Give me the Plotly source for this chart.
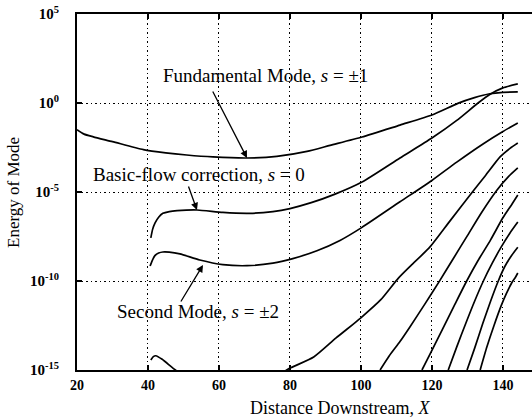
import numpy as np
import plotly.graph_objects as go

# Energy of each mode along the downstream distance (log10 of energy)
fund_x = [20, 22, 24.6, 30, 38.7, 45, 50.9, 58.3, 67.9, 76.3, 84.8, 91.3, 100.3, 111, 120, 127.3, 132, 136.3, 140, 144.2]
fund_log = [-1.5, -1.75, -1.9, -2.17, -2.62, -2.8, -2.92, -3.03, -3.09, -3.0, -2.72, -2.38, -1.91, -1.24, -0.67, -0.02, 0.3, 0.52, 0.6, 0.62]

base_x = [40.8, 41.3, 42, 43, 44.2, 46, 48.2, 53.8, 61.1, 68.7, 75.2, 80, 86, 92.7, 100.3, 111, 120, 127, 133, 136.3, 140, 144.2]
base_log = [-7.58, -7.1, -6.74, -6.42, -6.2, -6.1, -6.05, -6.01, -6.15, -6.2, -6.1, -5.93, -5.6, -5.12, -4.44, -3.09, -1.97, -0.98, 0.0, 0.48, 0.85, 1.07]

second_x = [40.6, 41.2, 42, 43, 44.2, 46, 49, 54.6, 61.1, 67.9, 75.2, 80.8, 87.6, 94.1, 100.2, 111, 120, 127, 134.4, 140, 144.2]
second_log = [-9.16, -8.85, -8.56, -8.43, -8.37, -8.38, -8.48, -8.82, -9.08, -9.14, -9.0, -8.74, -8.3, -7.72, -7.0, -5.55, -4.35, -3.32, -2.3, -1.6, -1.12]

third_x = [40.8, 41.5, 42.2, 44, 47.3, 50, 55, 62, 70, 76, 80.2, 86.7, 93, 99.9, 105.6, 110.5, 114, 119.4, 125, 131.8, 135, 139.2, 142, 144.2]
third_log = [-14.44, -14.25, -14.2, -14.4, -14.94, -15.3, -15.9, -16.2, -16.0, -15.35, -14.88, -14.27, -13.2, -12.08, -11.05, -9.85, -9.15, -8.1, -6.65, -4.9, -4.1, -3.03, -2.55, -2.25]

fourth_x = [105.4, 108, 111, 113.8, 118, 122, 126, 130, 134, 138.3, 141.5, 144.2]
fourth_log = [-15.0, -14.2, -13.4, -12.58, -11.3, -10.05, -8.75, -7.45, -6.15, -4.9, -4.15, -3.65]

fifth_x = [117.2, 120, 123, 126.5, 129.8, 133, 136.5, 140, 142.5, 144.2]
fifth_log = [-15.0, -13.9, -12.7, -11.3, -10.0, -8.85, -7.7, -6.45, -5.7, -5.17]

sixth_x = [124.6, 127, 129.5, 132, 134.5, 137, 139.5, 142, 144.2]
sixth_log = [-15.0, -13.7, -12.4, -11.15, -10.0, -9.0, -8.1, -7.3, -6.69]

seventh_x = [129.9, 132, 134.3, 136.5, 138.7, 140.5, 142.5, 144.2]
seventh_log = [-15.0, -13.8, -12.4, -11.15, -10.0, -9.2, -8.55, -8.1]

eighth_x = [133.6, 135.5, 137.5, 139.5, 141, 142.5, 143.5, 144.2]
eighth_log = [-15.0, -13.7, -12.5, -11.4, -10.7, -10.1, -9.8, -9.55]

x_ticks = [20, 40, 60, 80, 100, 120, 140]
y_tick_exp = [-15, -10, -5, 0, 5]
y_tick_text = ["10<sup>-15</sup>", "10<sup>-10</sup>", "10<sup>-5</sup>", "10<sup>0</sup>", "10<sup>5</sup>"]

SERIF = "Liberation Serif, Times New Roman, serif"

curves = [
    (fund_x, fund_log), (base_x, base_log), (second_x, second_log),
    (third_x, third_log), (fourth_x, fourth_log), (fifth_x, fifth_log),
    (sixth_x, sixth_log), (seventh_x, seventh_log), (eighth_x, eighth_log),
]

fig = go.Figure()
for xs, logs in curves:
    fig.add_trace(go.Scatter(
        x=xs, y=10.0 ** np.array(logs), mode="lines",
        line=dict(color="black", width=1.7, shape="spline", smoothing=0.6),
        showlegend=False, hoverinfo="skip",
    ))

axis_common = dict(
    showline=True, linecolor="black", linewidth=2,
    ticks="inside", ticklen=5, tickwidth=1.5, tickcolor="black",
    showgrid=True, gridcolor="black", gridwidth=1, griddash="1.5px,3px",
    zeroline=False, automargin=False,
)

fig.update_xaxes(
    range=[20, 148.2], tickvals=x_ticks, mirror="ticks",
    ticklabelstandoff=1,
    tickfont=dict(family=SERIF, size=14, color="black", weight="bold"),
    **axis_common,
)
fig.update_yaxes(
    type="log", range=[-15, 5], tickvals=[10.0 ** e for e in y_tick_exp],
    ticktext=y_tick_text, ticklabelstandoff=13,
    tickfont=dict(family=SERIF, size=15, color="black", weight="bold"),
    **axis_common,
)

label_font = dict(family=SERIF, size=19, color="black")
arrow_style = dict(showarrow=True, arrowhead=2, arrowsize=1.1, arrowwidth=1.3,
                   arrowcolor="black", axref="pixel", ayref="pixel")

annotations = [
    dict(x=73.2, y=1.52, text="Fundamental Mode, <i>s</i> = ±1", showarrow=False, font=label_font),
    dict(x=54.4, y=-4.04, text="Basic-flow correction, <i>s</i> = 0", showarrow=False, font=label_font),
    dict(x=54.1, y=-11.69, text="Second Mode, <i>s</i> = ±2", showarrow=False, font=label_font),
    dict(x=67.9, y=-3.09, text="", ax=-35, ay=-68, **arrow_style),
    dict(x=53.8, y=-6.01, text="", ax=-9, ay=-25, **arrow_style),
    dict(x=55.5, y=-9.1, text="", ax=-23, ay=38, **arrow_style),
    dict(xref="paper", yref="paper", x=-0.1407, y=0.5, xanchor="center", yanchor="middle",
         text="Energy of Mode", textangle=-90, showarrow=False,
         font=dict(family=SERIF, size=17, color="black")),
    dict(xref="paper", yref="paper", x=0.578, y=-0.107, xanchor="center", yanchor="middle",
         text="Distance Downstream, <i>X</i>", showarrow=False,
         font=dict(family=SERIF, size=18, color="black")),
]
fig.update_layout(
    width=532, height=418,
    margin=dict(l=77, r=0, t=14, b=48),
    paper_bgcolor="white", plot_bgcolor="white",
    annotations=annotations,
)

fig.write_html("out.html")
